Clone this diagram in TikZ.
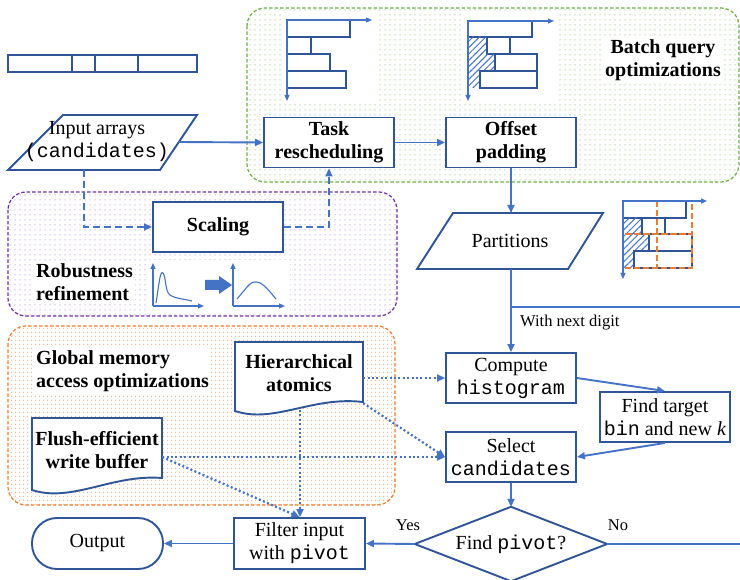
\documentclass[tikz,border=0pt]{standalone}
\usepackage{fontspec}
\setmainfont{Liberation Serif}
\setmonofont{Liberation Mono}
\usetikzlibrary{arrows.meta,patterns.meta}
\definecolor{boxblue}{HTML}{2F5597}
\definecolor{lineblue}{HTML}{4472C4}
\definecolor{grn}{HTML}{70AD47}
\definecolor{purp}{HTML}{7030A0}
\definecolor{orng}{HTML}{ED7D31}
\begin{document}
\begin{tikzpicture}[x=1pt,y=-1pt,
  txt/.style={font=\fontsize{20}{23}\selectfont, align=center, inner sep=0pt},
  btxt/.style={font=\fontsize{20}{23}\selectfont\bfseries, align=center, inner sep=0pt},
  stxt/.style={font=\fontsize{16.5}{19}\selectfont, inner sep=0pt},
  box/.style={txt, draw=boxblue, line width=1.9pt, fill=white, minimum width=130pt, minimum height=50pt},
  bbox/.style={box, font=\fontsize{20}{23}\selectfont\bfseries},
  tip/.style={-{Triangle[length=8pt,width=7pt]}},
  conn/.style={draw=lineblue, line width=1.9pt},
  arr/.style={conn, tip},
  dashl/.style={conn, dash pattern=on 7pt off 4pt},
  dotl/.style={draw=lineblue, line width=2.2pt, dash pattern=on 2pt off 2.4pt, tip},
  axis/.style={draw=lineblue, line width=1.2pt, -{Triangle[length=6pt,width=5pt]}},
  bar/.style={draw=boxblue, line width=1.7pt, fill=white},
  hatchfill/.style={pattern={Lines[angle=45,distance=4.5pt,line width=1pt]}, pattern color=lineblue},
  region/.style={line width=1.2pt, dash pattern=on 3.5pt off 2pt, rounded corners=18pt},
]
\useasboundingbox (0,0) rectangle (740,580);
\fill[white] (0,0) rectangle (740,580);

% regions
\draw[region, draw=grn, pattern={Dots[distance=5pt,radius=0.75pt]}, pattern color=grn!50] (247,8) rectangle (739,182);
\draw[region, draw=purp, pattern={Dots[distance=5pt,radius=0.75pt]}, pattern color=purp!35] (8,192) rectangle (397,316);
\draw[region, draw=orng, pattern={Dots[distance=4pt,radius=0.8pt]}, pattern color=orng!60] (8,326) rectangle (395,505);

% top-left bar
\draw[boxblue, line width=1.9pt] (8,55) rectangle (197,72);
\draw[boxblue, line width=1.9pt] (72,55) -- (72,72) (95,55) -- (95,72) (138,55) -- (138,72);

% chart 1
\fill[white] (281,14) rectangle (376,104);
\draw[bar] (287,20) rectangle (350,37);
\draw[bar] (287,37) rectangle (311,54);
\draw[bar] (287,54) rectangle (330,71);
\draw[bar] (287,71) rectangle (346,88);
\draw[axis] (287,20) -- (372,20);
\draw[axis] (287,20) -- (287,101);

% chart 2
\fill[white] (462,14) rectangle (557,104);
\draw[bar] (468,21) rectangle (532,37);
\fill[hatchfill] (468,37) rectangle (487,54);
\draw[bar] (487,37) rectangle (510,54);
\fill[hatchfill] (468,54) rectangle (495,71);
\draw[bar] (495,54) rectangle (537,71);
\fill[hatchfill] (468,71) rectangle (480,88);
\draw[bar] (480,71) rectangle (537,88);
\draw[axis] (468,21) -- (554,21);
\draw[axis] (468,21) -- (468,101);

% chart 3
\draw[bar] (623,201) rectangle (686,218);
\fill[hatchfill] (623,218) rectangle (642,234);
\draw[bar] (642,218) rectangle (665,234);
\fill[hatchfill] (623,234) rectangle (649,251);
\draw[bar] (649,234) rectangle (692,251);
\fill[hatchfill] (623,251) rectangle (634,268);
\draw[bar] (634,251) rectangle (692,268);
\draw[orng, line width=1.8pt, dash pattern=on 6pt off 3pt] (623,201) rectangle (692,234) (623,234) rectangle (692,268) (657,201) -- (657,268);
\draw[axis] (623,201) -- (707,201);
\draw[axis] (623,201) -- (623,279);

% text labels in regions
\node[btxt, fill=white, inner sep=2pt] (bq) at (663,60) {Batch query\\optimizations};
\node[btxt, align=left, fill=white, inner sep=2pt, anchor=west] (rob) at (34,282) {Robustness\\refinement};
\node[btxt, align=left, fill=white, inner sep=2pt, anchor=west] (gm) at (34,371) {Global memory\\access optimizations};

% small distribution charts
\fill[white] (148,260) rectangle (290,311);
\draw[axis] (153,306) -- (153,263);
\draw[axis] (153,306) -- (204,306);
\draw[lineblue, line width=1.1pt] (156,303) .. controls (159,285) and (160,270) .. (163,273) .. controls (166,276) and (165,292) .. (170,295) .. controls (176,299) and (185,299) .. (192,301);
\draw[axis] (233,306) -- (233,263);
\draw[axis] (233,306) -- (285,306);
\draw[lineblue, line width=1.1pt] (237,299) .. controls (245,290) and (250,281) .. (256,282) .. controls (263,282) and (270,292) .. (276,299);
\fill[lineblue] (205,280) -- (219,280) -- (219,276) -- (232,285) -- (219,294) -- (219,290) -- (205,290) -- cycle;

% input arrays
\draw[boxblue, line width=1.9pt, fill=white] (63,115) -- (197,115) -- (160,170) -- (8,170) -- cycle;
\node[txt] (inp) at (97,142) {Input arrays\\\texttt{(candidates)}};
\coordinate (inpR) at (178.5,142);
\coordinate (inpB) at (84,170);

% top boxes
\node[bbox] (task) at (329,142.5) {Task\\rescheduling};
\node[bbox] (off) at (511,142.5) {Offset\\padding};
\node[bbox] (scal) at (218,227) {Scaling};

% partitions
\draw[boxblue, line width=1.9pt, fill=white] (453,213) -- (603,213) -- (568,269) -- (417,269) -- cycle;
\node[txt] (part) at (510,241) {Partitions};
\coordinate (partT) at (511,213);
\coordinate (partB) at (511,269);
\coordinate (jn) at (511,307);
\coordinate (redge) at (741,307);

% right column
\node[box] (comp) at (511,378) {Compute\\\texttt{histogram}};
\node[box] (fnd) at (665,417) {Find target\\\texttt{bin} and new \textit{k}};
\node[box] (sel) at (511,457) {Select\\\texttt{candidates}};
\node[txt, minimum width=192pt, minimum height=74pt] (dec) at (511,544) {Find \texttt{pivot}?};
\draw[boxblue, line width=1.9pt] (dec.north) -- (dec.east) -- (dec.south) -- (dec.west) -- cycle;
\node[box, minimum width=131pt, minimum height=51pt] (filt) at (299.5,543.5) {Filter input\\with \texttt{pivot}};
\node[box, minimum width=131pt, minimum height=51pt, rounded corners=25pt] (out) at (97.5,543.5) {Output};
\coordinate (nedge) at (741,544);

% document shapes
\draw[boxblue, line width=1.9pt, fill=white] (235,342) -- (363,342) -- (363,402) .. controls (312,396) and (274,424) .. (235,411) -- cycle;
\node[btxt, minimum width=128pt, minimum height=60pt] (hier) at (299,373) {Hierarchical\\atomics};
\draw[boxblue, line width=1.9pt, fill=white] (32,418) -- (162,418) -- (162,478) .. controls (112,474) and (72,503) .. (32,490) -- cycle;
\node[btxt, minimum width=130pt, minimum height=60pt] (flush) at (97,450) {Flush-efficient\\write buffer};
\coordinate (hb) at (300,410);

% labels
\node[stxt, anchor=west] (wnd) at (520,323) {With next digit};
\node[stxt] (yes) at (408,525) {Yes};
\node[stxt] (no) at (618,525) {No};

% connectors
\draw[arr] (inpR) -- (task.west);
\draw[arr] (task.east) -- (off.west);
\draw[dashl, tip] (inpB) |- (scal.west);
\draw[dashl, tip] (scal.east) -| (task.south);
\draw[arr] (off.south) -- (partT);
\draw[conn] (partB) -- (jn);
\draw[conn] (redge) -- (jn);
\draw[arr] (jn) -- (comp.north);
\draw[arr] (comp.east) -- (fnd.north);
\draw[arr] (fnd.south) -- (sel.east);
\draw[arr] (sel.south) -- (dec.north);
\draw[arr] (dec.west) -- (filt.east);
\draw[arr] (filt.west) -- (out.east);
\draw[conn] (dec.east) -- (nedge);

\draw[dotl] (hier.east |- comp) -- (comp.west);
\draw[dotl] (hier.south east) -- (sel.west);
\draw[dotl] (flush.east |- sel) -- (sel.west);
\draw[dotl] (flush.east |- sel) -- (filt.north);
\draw[dotl] (hb) -- (hb |- filt.north);
\end{tikzpicture}
\end{document}
